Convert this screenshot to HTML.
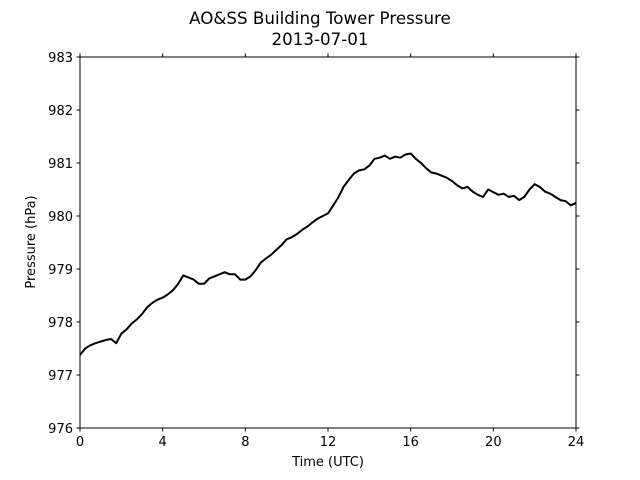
<!DOCTYPE html>
<html><head><meta charset="utf-8"><style>
body{margin:0;background:#fff}
svg{display:block;font-family:"DejaVu Sans","Liberation Sans",sans-serif}
</style></head><body>
<svg id="chart" width="640" height="480" viewBox="0 0 640 480">
<text x="320" y="24" text-anchor="middle" font-size="16.7">AO&amp;SS Building Tower Pressure</text>
<text x="320" y="45" text-anchor="middle" font-size="16.7">2013-07-01</text>
<g id="axes"></g>
<text x="328" y="466" text-anchor="middle" font-size="13">Time (UTC)</text>
<text transform="translate(35,242) rotate(-90)" text-anchor="middle" font-size="13">Pressure (hPa)</text>
</svg>
<script>
const times=[0,0.25,0.5,0.75,1,1.25,1.5,1.75,2,2.25,2.5,2.75,3,3.25,3.5,3.75,4,4.25,4.5,4.75,5,5.25,5.5,5.75,6,6.25,6.5,6.75,7,7.25,7.5,7.75,8,8.25,8.5,8.75,9,9.25,9.5,9.75,10,10.25,10.5,10.75,11,11.25,11.5,11.75,12,12.25,12.5,12.75,13,13.25,13.5,13.75,14,14.25,14.5,14.75,15,15.25,15.5,15.75,16,16.25,16.5,16.75,17,17.25,17.5,17.75,18,18.25,18.5,18.75,19,19.25,19.5,19.75,20,20.25,20.5,20.75,21,21.25,21.5,21.75,22,22.25,22.5,22.75,23,23.25,23.5,23.75,24];
const pressures=[977.38,977.5,977.56,977.6,977.63,977.66,977.68,977.6,977.78,977.86,977.97,978.05,978.15,978.28,978.36,978.42,978.46,978.52,978.6,978.72,978.88,978.84,978.8,978.72,978.72,978.82,978.86,978.9,978.94,978.9,978.9,978.8,978.8,978.86,978.98,979.12,979.2,979.27,979.36,979.45,979.56,979.6,979.66,979.74,979.8,979.88,979.95,980.0,980.05,980.2,980.35,980.55,980.68,980.8,980.86,980.88,980.95,981.08,981.1,981.14,981.08,981.12,981.1,981.16,981.18,981.08,981.0,980.9,980.82,980.8,980.76,980.72,980.66,980.58,980.52,980.55,980.46,980.4,980.36,980.5,980.45,980.4,980.42,980.36,980.38,980.3,980.36,980.5,980.6,980.55,980.46,980.42,980.36,980.3,980.28,980.2,980.25];
const xTicks=[0,4,8,12,16,20,24];
const yTicks=[976,977,978,979,980,981,982,983];
const L=80,R=576,T=57,B=428,X0=0,X1=24,Y0=976,Y1=983;
const sx=v=>L+(v-X0)/(X1-X0)*(R-L);
const sy=v=>B-(v-Y0)/(Y1-Y0)*(B-T);
const NS="http://www.w3.org/2000/svg";
const g=document.getElementById('axes');
function mk(tag,attrs){const e=document.createElementNS(NS,tag);for(const k in attrs)e.setAttribute(k,attrs[k]);g.appendChild(e);return e;}
const d=times.map((t,i)=>(i?'L':'M')+sx(t).toFixed(1)+','+sy(pressures[i]).toFixed(1)).join('');
const line=mk('path',{d:d,fill:'none',stroke:'#000','stroke-width':2,'stroke-linejoin':'round'});


const frame=mk('rect',{x:L,y:T,width:R-L,height:B-T,fill:'none',stroke:'#000','stroke-width':1});


xTicks.forEach(v=>{
  const x=sx(v);
  mk('line',{x1:x,x2:x,y1:B,y2:B+3.5,stroke:'#000'});
  mk('line',{x1:x,x2:x,y1:T,y2:T-3.5,stroke:'#000'});
  const t=mk('text',{x:x,y:B+18,'text-anchor':'middle','font-size':13});
  t.textContent=v;
  
  
});
yTicks.forEach(v=>{
  const y=sy(v);
  mk('line',{x1:L,x2:L-3.5,y1:y,y2:y,stroke:'#000'});
  mk('line',{x1:R,x2:R+3.5,y1:y,y2:y,stroke:'#000'});
  const t=mk('text',{x:L-7,y:y+5,'text-anchor':'end','font-size':13});
  t.textContent=v;
  
  
});
</script>
</body></html>
